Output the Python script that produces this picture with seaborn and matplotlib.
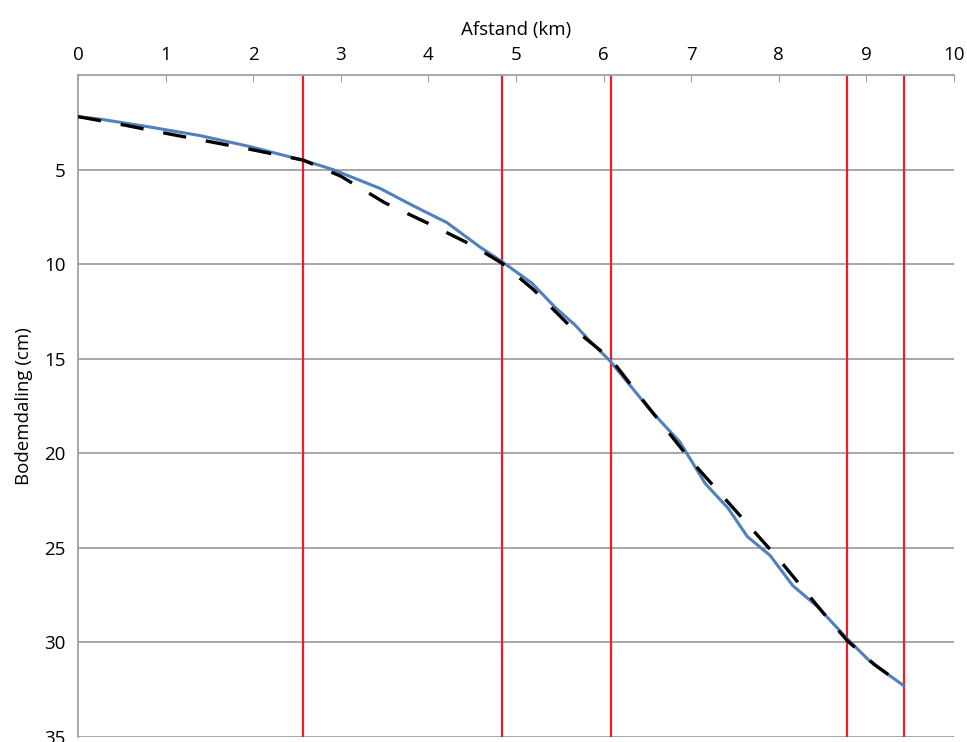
import matplotlib
matplotlib.use("Agg")
import matplotlib.pyplot as plt
import seaborn as sns
import pandas as pd

# Gemeten bodemdaling langs het profiel
afstand_gemeten = [0.0, 0.25, 0.82, 1.39, 1.96, 2.31, 2.57, 2.91, 3.45, 3.82, 4.21,
                   4.59, 4.85, 5.18, 5.45, 5.67, 5.84, 6.07, 6.53, 6.87, 7.16,
                   7.42, 7.64, 7.90, 8.16, 8.44, 8.78, 9.04, 9.43]
daling_gemeten = [2.2, 2.33, 2.75, 3.2, 3.78, 4.2, 4.5, 5.0, 6.0, 6.9, 7.8,
                  9.1, 9.9, 11.0, 12.3, 13.2, 14.05, 15.1, 17.7, 19.4, 21.6,
                  22.9, 24.4, 25.4, 27.0, 28.1, 29.8, 31.0, 32.3]

# Benadering (gestippelde lijn)
afstand_fit = [0.0, 0.5, 1.0, 1.5, 2.0, 2.57, 3.0, 3.5, 4.0, 4.5, 4.84, 5.2,
               5.6, 6.08, 6.5, 7.0, 7.5, 8.0, 8.5, 8.78, 9.1, 9.43]
daling_fit = [2.2, 2.62, 3.08, 3.52, 3.96, 4.5, 5.35, 6.75, 7.85, 9.0, 9.95, 11.35,
              13.2, 15.0, 17.5, 20.4, 23.0, 25.6, 28.4, 29.9, 31.2, 32.3]

# Rode verticale lijnen
markeringen = [2.57, 4.84, 6.08, 8.78, 9.43]

x_ticks = list(range(0, 11))
y_ticks = [5, 10, 15, 20, 25, 30, 35]

sns.set_style("white")
plt.rcParams['font.family'] = ['Open Sans', 'DejaVu Sans']

fig = plt.figure(figsize=(9.67, 7.42), dpi=100)
ax = fig.add_axes([0.0807, 0.0067, 0.9059, 0.8922])

grijs = "#a0a0a0"
for y in y_ticks:
    ax.axhline(y, color=grijs, lw=1.3, zorder=1)
for x in markeringen:
    ax.axvline(x, color="#ee1c25", lw=1.6, zorder=2)

df_m = pd.DataFrame({"afstand": afstand_gemeten, "daling": daling_gemeten})
df_f = pd.DataFrame({"afstand": afstand_fit, "daling": daling_fit})
sns.lineplot(data=df_m, x="afstand", y="daling", color="#4f81bd", lw=2.2,
             sort=False, ax=ax, zorder=3)
sns.lineplot(data=df_f, x="afstand", y="daling", color="black", lw=2.4,
             sort=False, ax=ax, zorder=4, dashes=False)
ax.lines[-1].set_dashes([7, 6])

ax.set_xlim(0, 10)
ax.set_ylim(35, 0)
ax.xaxis.set_ticks_position("top")
ax.xaxis.set_label_position("top")
ax.set_xticks(x_ticks)
ax.set_yticks(y_ticks)
ax.tick_params(axis="x", direction="in", length=5, color=grijs, labelsize=13.5,
               pad=8, labelcolor="black")
ax.tick_params(axis="y", direction="out", length=5, color=grijs, labelsize=13.5,
               pad=4, labelcolor="black")
ax.set_xlabel("Afstand (km)", fontsize=13.5, labelpad=8, color="black")
ax.set_ylabel("Bodemdaling (cm)", fontsize=13.5, labelpad=8, color="black")

for s in ["right", "bottom"]:
    ax.spines[s].set_visible(False)
for s in ["left", "top"]:
    ax.spines[s].set_color(grijs)
    ax.spines[s].set_linewidth(1.3)

fig.savefig("out.png", dpi=100)
